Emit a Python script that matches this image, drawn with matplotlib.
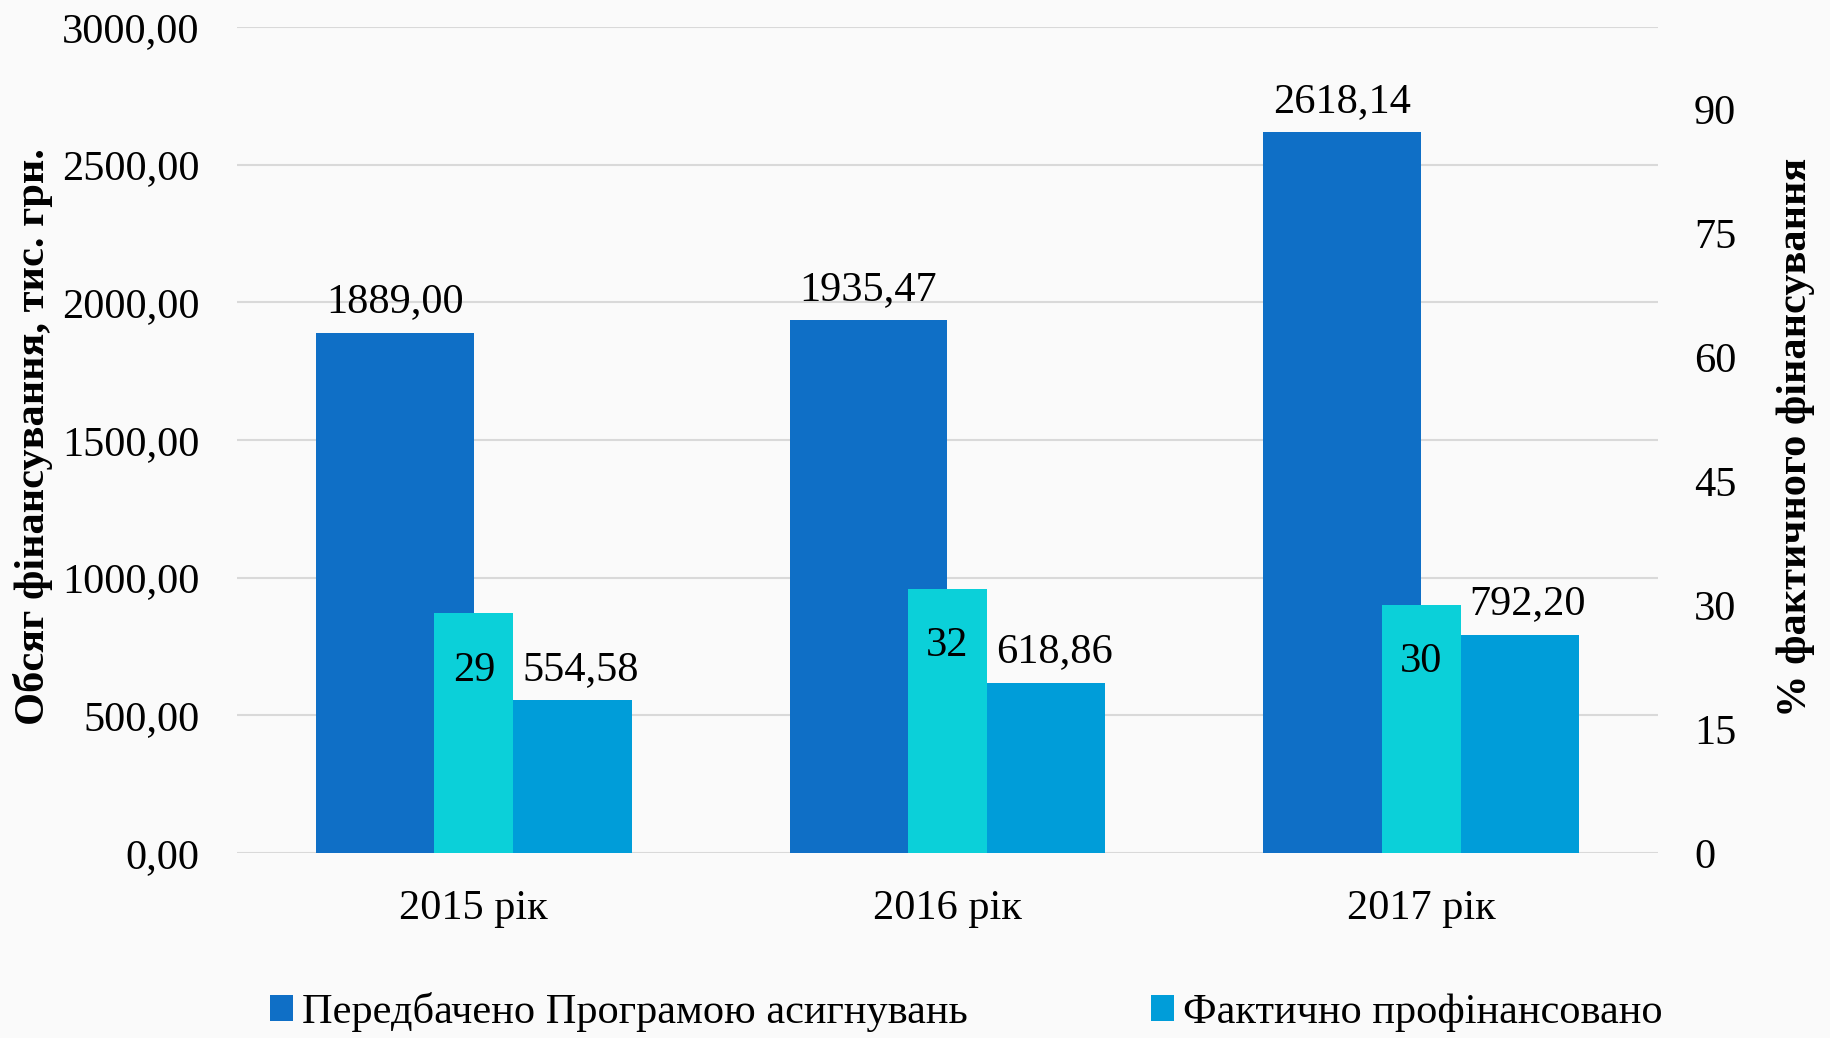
import numpy as np
import matplotlib
matplotlib.use('Agg')
import matplotlib.pyplot as plt
from matplotlib.patches import Patch

# data
roky = ['2015 рік', '2016 рік', '2017 рік']
peredbacheno = [1889.00, 1935.47, 2618.14]
faktychno = [554.58, 618.86, 792.20]
vidsotok = [29, 32, 30]

seria1 = 'Передбачено Програмою асигнувань'
seria2 = 'Фактично профінансовано'
os_liva = 'Обсяг фінансування, тис. грн.'
os_prava = '% фактичного фінансування'

c_temnyi = '#0F6FC6'
c_sinii = '#009DD9'
c_biriuza = '#0BD0D9'
fon = '#fafafa'

plt.rcParams['font.family'] = ['Liberation Serif', 'DejaVu Serif']
fs = 30.5

def koma(v):
    return f'{v:.2f}'.replace('.', ',')

fig = plt.figure(figsize=(18.3, 10.38), dpi=100, facecolor=fon)
ax = fig.add_axes([237/1830, 1-853/1038, 1421/1830, 826/1038])
ax.set_facecolor(fon)
x = np.arange(len(roky))
w = 1/3

b1 = ax.bar(x - w/2, peredbacheno, w, color=c_temnyi, zorder=2)
b2 = ax.bar(x + w/2, faktychno, w, color=c_sinii, zorder=2)
ax.set_ylim(0, 3000)
ax.set_xlim(-0.5, 2.5)
ax.set_yticks(np.arange(0, 3001, 500))
ax.set_yticklabels([koma(v) for v in np.arange(0, 3001, 500)], fontsize=fs)
ax.set_xticks(x)
ax.set_xticklabels(roky, fontsize=fs)
ax.tick_params(axis='y', length=0, pad=27)
ax.tick_params(axis='x', length=0, pad=26)
ax.grid(axis='y', color='#d9d9d9', linewidth=1.5, zorder=0)
ax.set_axisbelow(True)
for s in ax.spines.values():
    s.set_visible(False)

for i in range(len(roky)):
    ax.annotate(koma(peredbacheno[i]), (x[i] - w/2, peredbacheno[i]), xytext=(0, 22),
                textcoords='offset points', ha='center', va='center', fontsize=fs)
    ax.annotate(koma(faktychno[i]), (x[i] + w/2, faktychno[i]), xytext=(20, 22),
                textcoords='offset points', ha='center', va='center', fontsize=fs)

ax2 = ax.twinx()
ax2.bar(x, vidsotok, 1/6, color=c_biriuza, zorder=3)
ax2.set_ylim(0, 100)
ax2.set_yticks(np.arange(0, 91, 15))
ax2.set_yticklabels([str(v) for v in np.arange(0, 91, 15)], fontsize=fs)
ax2.tick_params(axis='y', length=0, pad=26)
for s in ax2.spines.values():
    s.set_visible(False)
for i in range(len(roky)):
    ax2.annotate(str(vidsotok[i]), (x[i], vidsotok[i]), xytext=(0, -41),
                 textcoords='offset points', ha='center', va='center', fontsize=fs)

fig.text(33/1830, 1-437/1038, os_liva, rotation=90, ha='center', va='center',
         fontsize=fs, fontweight='bold')
fig.text(1796/1830, 1-437/1038, os_prava, rotation=90, ha='center', va='center',
         fontsize=fs, fontweight='bold')

ruchky = [Patch(facecolor=c_temnyi), Patch(facecolor=c_sinii)]
fig.legend(ruchky, [seria1, seria2], loc='center', bbox_to_anchor=(966/1830, 1-1012/1038),
           ncol=2, frameon=False, fontsize=fs, handlelength=0.54, handleheight=0.54,
           handletextpad=0.21, columnspacing=4.33, borderpad=0, borderaxespad=0)

fig.savefig('out.png', dpi=100, facecolor=fon)
